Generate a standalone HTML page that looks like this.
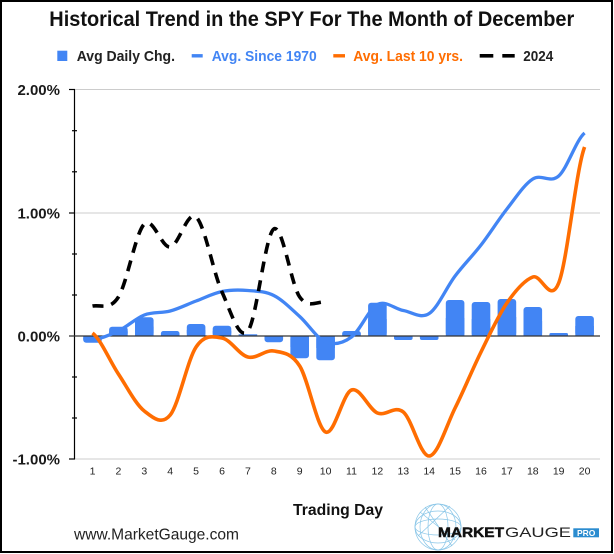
<!DOCTYPE html>
<html><head><meta charset="utf-8"><style>
html,body{margin:0;padding:0;background:#fff;}
svg{display:block;}
text{font-family:"Liberation Sans",Arial,sans-serif;}
</style></head><body>
<svg width="614" height="554" viewBox="0 0 614 554" xmlns="http://www.w3.org/2000/svg">
<rect x="0" y="0" width="614" height="554" fill="#fff"/>
<!-- title -->
<text x="49.3" y="26" font-size="21" font-weight="bold" fill="#111" textLength="525" lengthAdjust="spacingAndGlyphs">Historical Trend in the SPY For The Month of December</text>
<!-- legend -->
<rect x="57.3" y="50.7" width="10" height="10.3" fill="#4285F4"/>
<text x="76.7" y="60.8" font-size="15" font-weight="bold" fill="#222" textLength="98.3" lengthAdjust="spacingAndGlyphs">Avg Daily Chg.</text>
<line x1="191.7" y1="55.8" x2="202.7" y2="55.8" stroke="#4285F4" stroke-width="3.4"/>
<text x="211.7" y="60.8" font-size="15" font-weight="bold" fill="#4285F4" textLength="105" lengthAdjust="spacingAndGlyphs">Avg. Since 1970</text>
<line x1="333.3" y1="55.8" x2="345" y2="55.8" stroke="#FF6D01" stroke-width="3.4"/>
<text x="353.3" y="60.8" font-size="15" font-weight="bold" fill="#FF6D01" textLength="109.7" lengthAdjust="spacingAndGlyphs">Avg. Last 10 yrs.</text>
<line x1="479.7" y1="55.8" x2="493.3" y2="55.8" stroke="#000" stroke-width="3.6"/>
<line x1="502.3" y1="55.8" x2="514.7" y2="55.8" stroke="#000" stroke-width="3.6"/>
<text x="523.3" y="60.8" font-size="15" font-weight="bold" fill="#222" textLength="30" lengthAdjust="spacingAndGlyphs">2024</text>

<!-- gridlines -->
<line x1="74.5" y1="89.5" x2="600" y2="89.5" stroke="#cccccc" stroke-width="1"/>
<line x1="74.5" y1="213" x2="600" y2="213" stroke="#cccccc" stroke-width="1"/>
<line x1="74.5" y1="459" x2="600" y2="459" stroke="#cccccc" stroke-width="1"/>

<!-- y axis -->
<line x1="74.5" y1="89.5" x2="74.5" y2="459" stroke="#000" stroke-width="1.2"/>
<g stroke="#000" stroke-width="1.2">
<line x1="69" y1="89.5" x2="75" y2="89.5"/>
<line x1="69" y1="213" x2="75" y2="213"/>
<line x1="69" y1="459" x2="75" y2="459"/>
<line x1="72" y1="130.7" x2="77" y2="130.7"/>
<line x1="72" y1="171.8" x2="77" y2="171.8"/>
<line x1="72" y1="254" x2="77" y2="254"/>
<line x1="72" y1="295" x2="77" y2="295"/>
<line x1="72" y1="377" x2="77" y2="377"/>
<line x1="72" y1="418" x2="77" y2="418"/>
</g>
<g font-size="15" font-weight="bold" fill="#1a1a1a" text-anchor="end">
<text x="60" y="95">2.00%</text>
<text x="60" y="218.5">1.00%</text>
<text x="60" y="341.5">0.00%</text>
<text x="60" y="464.5">-1.00%</text>
</g>

<!-- bars -->
<g fill="#4285F4">
<!-- negative bars: rounded rect + square top half -->
<rect x="83.2" y="336" width="18.6" height="6.7" rx="3"/><rect x="83.2" y="336" width="18.6" height="3.4"/>
<rect x="109.1" y="326.7" width="18.6" height="9.3" rx="3"/><rect x="109.1" y="331.4" width="18.6" height="4.6"/>
<rect x="135" y="317.3" width="18.6" height="18.7" rx="3"/><rect x="135" y="326.6" width="18.6" height="9.4"/>
<rect x="160.9" y="331" width="18.6" height="5" rx="2.5"/><rect x="160.9" y="333.5" width="18.6" height="2.5"/>
<rect x="186.8" y="324" width="18.6" height="12" rx="3"/><rect x="186.8" y="330" width="18.6" height="6"/>
<rect x="212.7" y="325.7" width="18.6" height="10.3" rx="3"/><rect x="212.7" y="330.8" width="18.6" height="5.2"/>
<rect x="238.6" y="334.3" width="18.6" height="1.7"/>
<rect x="264.5" y="336" width="18.6" height="6.3" rx="3"/><rect x="264.5" y="336" width="18.6" height="3.2"/>
<rect x="290.4" y="336" width="18.6" height="22.3" rx="3"/><rect x="290.4" y="336" width="18.6" height="11"/>
<rect x="316.3" y="336" width="18.6" height="24.3" rx="3"/><rect x="316.3" y="336" width="18.6" height="12"/>
<rect x="342.2" y="331" width="18.6" height="5" rx="2.5"/><rect x="342.2" y="333.5" width="18.6" height="2.5"/>
<rect x="368.1" y="302.7" width="18.6" height="33.3" rx="3"/><rect x="368.1" y="319" width="18.6" height="17"/>
<rect x="394" y="336" width="18.6" height="4" rx="2"/><rect x="394" y="336" width="18.6" height="2"/>
<rect x="419.9" y="336" width="18.6" height="4" rx="2"/><rect x="419.9" y="336" width="18.6" height="2"/>
<rect x="445.8" y="300" width="18.6" height="36" rx="3"/><rect x="445.8" y="318" width="18.6" height="18"/>
<rect x="471.7" y="302" width="18.6" height="34" rx="3"/><rect x="471.7" y="319" width="18.6" height="17"/>
<rect x="497.6" y="299" width="18.6" height="37" rx="3"/><rect x="497.6" y="317" width="18.6" height="19"/>
<rect x="523.5" y="307" width="18.6" height="29" rx="3"/><rect x="523.5" y="321" width="18.6" height="15"/>
<rect x="549.4" y="333" width="18.6" height="3" rx="1.5"/><rect x="549.4" y="334.5" width="18.6" height="1.5"/>
<rect x="575.3" y="316" width="18.6" height="20" rx="3"/><rect x="575.3" y="326" width="18.6" height="10"/>
</g>

<!-- zero line -->
<line x1="69" y1="336" x2="600" y2="336" stroke="#333" stroke-width="1.2"/>

<!-- blue line -->
<path fill="none" stroke="#4285F4" stroke-width="3.3" stroke-linejoin="round" stroke-linecap="butt" d="M92.5,340 C101.13,338.5 109.77,335.17 118.4,331 C127.03,326.83 135.67,318.33 144.3,315 C152.93,311.67 161.57,313.33 170.2,311 C178.83,308.67 187.47,304.25 196.1,301 C204.73,297.75 213.37,293.25 222,291.5 C230.63,289.75 239.27,289.83 247.9,290.5 C256.53,291.17 265.17,291.17 273.8,295.5 C282.43,299.83 291.07,308.75 299.7,316.5 C308.33,324.25 316.97,338.58 325.6,342 C334.23,345.42 342.87,343.25 351.5,337 C360.13,330.75 368.77,308.92 377.4,304.5 C386.03,300.08 394.67,309 403.3,310.5 C411.93,312 420.57,319.25 429.2,313.5 C437.83,307.75 446.47,287.42 455.1,276 C463.73,264.58 472.37,256.17 481,245 C489.63,233.83 498.27,220 506.9,209 C515.53,198 524.17,184.5 532.8,179 C541.43,173.5 550.07,183.67 558.7,176 C567.33,168.33 575.97,140.17 584.6,133"/>

<!-- orange line -->
<path fill="none" stroke="#FF6D01" stroke-width="3.6" stroke-linejoin="round" d="M92.5,333 C101.13,339.83 109.77,361 118.4,374 C127.03,387 135.67,404.17 144.3,411 C152.93,417.83 161.57,425.67 170.2,415 C178.83,404.33 187.47,359.83 196.1,347 C204.73,334.17 213.37,336.33 222,338 C230.63,339.67 239.27,354.83 247.9,357 C256.53,359.17 265.17,349.5 273.8,351 C282.43,352.5 291.07,352.5 299.7,366 C308.33,379.5 316.97,428 325.6,432 C334.23,436 342.87,393.17 351.5,390 C360.13,386.83 368.77,409.33 377.4,413 C386.03,416.67 394.67,404.83 403.3,412 C411.93,419.17 420.57,456.67 429.2,456 C437.83,455.33 446.47,425.33 455.1,408 C463.73,390.67 472.37,369.5 481,352 C489.63,334.5 498.27,315.5 506.9,303 C515.53,290.5 524.17,280.33 532.8,277 C541.43,273.67 550.07,304.67 558.7,283 C567.33,261.33 575.97,169.67 584.6,147"/>

<!-- black dashed line -->
<path fill="none" stroke="#000" stroke-width="3.6" stroke-dasharray="11 8" d="M92.5,306 C101.13,304.5 109.77,310.67 118.4,297 C127.03,283.33 135.67,232.33 144.3,224 C152.93,215.67 161.57,248.17 170.2,247 C178.83,245.83 187.47,209.5 196.1,217 C204.73,224.5 213.37,273 222,292 C230.63,311 239.27,341.5 247.9,331 C256.53,320.5 265.17,234.67 273.8,229 C282.43,223.33 291.07,284.83 299.7,297 C308.33,309.17 316.97,301.17 325.6,302"/>

<!-- x labels -->
<g font-size="10.5" fill="#222" text-anchor="middle">
<text x="92.5" y="474.5">1</text>
<text x="118.4" y="474.5">2</text>
<text x="144.3" y="474.5">3</text>
<text x="170.2" y="474.5">4</text>
<text x="196.1" y="474.5">5</text>
<text x="222" y="474.5">6</text>
<text x="247.9" y="474.5">7</text>
<text x="273.8" y="474.5">8</text>
<text x="299.7" y="474.5">9</text>
<text x="325.6" y="474.5">10</text>
<text x="351.5" y="474.5">11</text>
<text x="377.4" y="474.5">12</text>
<text x="403.3" y="474.5">13</text>
<text x="429.2" y="474.5">14</text>
<text x="455.1" y="474.5">15</text>
<text x="481" y="474.5">16</text>
<text x="506.9" y="474.5">17</text>
<text x="532.8" y="474.5">18</text>
<text x="558.7" y="474.5">19</text>
<text x="584.6" y="474.5">20</text>
</g>

<text x="293" y="515" font-size="16" font-weight="bold" fill="#111" textLength="90" lengthAdjust="spacingAndGlyphs">Trading Day</text>
<text x="74" y="539.3" font-size="16" fill="#222" textLength="165" lengthAdjust="spacingAndGlyphs">www.MarketGauge.com</text>

<!-- logo -->
<g fill="none" stroke="#3a9fd8" stroke-width="0.7" opacity="0.6">
<circle cx="438" cy="527" r="23"/>
<ellipse cx="438" cy="527" rx="10" ry="23"/>
<ellipse cx="438" cy="527" rx="18" ry="23"/>
<ellipse cx="438" cy="527" rx="23" ry="8"/>
<ellipse cx="438" cy="527" rx="23" ry="16"/>
<line x1="420" y1="512" x2="455" y2="540"/>
<line x1="425" y1="507" x2="452" y2="546"/>
<line x1="418" y1="536" x2="450" y2="506"/>
</g>
<text x="438" y="537" font-size="14" font-weight="bold" fill="#111" textLength="66" lengthAdjust="spacingAndGlyphs" stroke="#111" stroke-width="0.5">MARKET</text>
<text x="505" y="537" font-size="14" fill="#222" textLength="66" lengthAdjust="spacingAndGlyphs">GAUGE</text>
<rect x="573.3" y="528.3" width="25.7" height="9" fill="#2b8ccf"/>
<text x="586.2" y="536" font-size="8.5" font-weight="bold" fill="#fff" text-anchor="middle">PRO</text>

<!-- frame -->
<rect x="1" y="1" width="611" height="551" fill="none" stroke="#000" stroke-width="2"/>
</svg>
</body></html>
